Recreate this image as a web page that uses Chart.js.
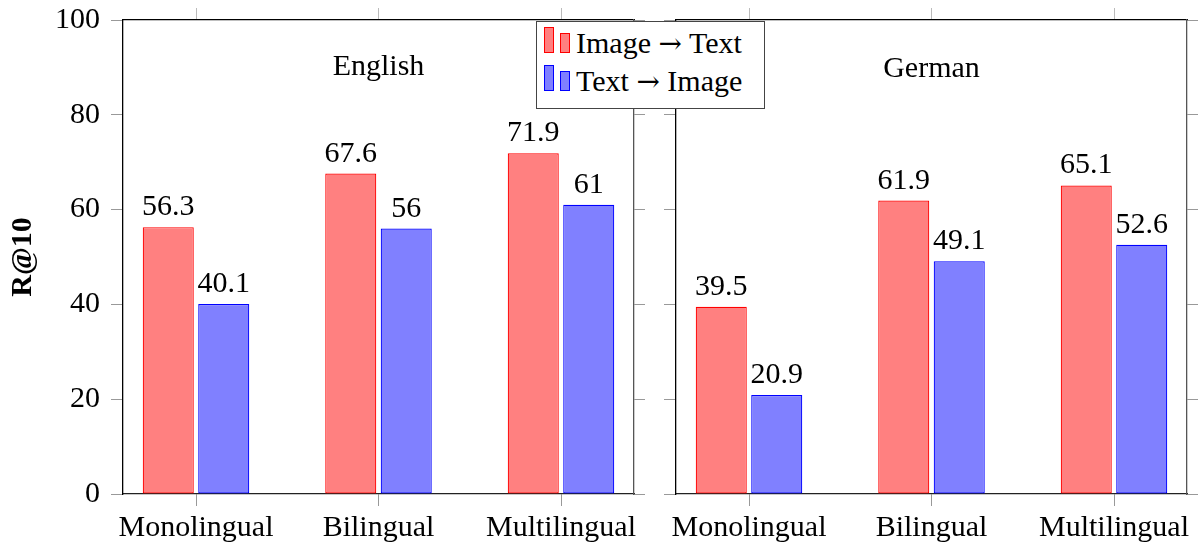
<!DOCTYPE html>
<html>
<head>
<meta charset="utf-8">
<script src="https://cdn.jsdelivr.net/npm/chart.js@4.4.0/dist/chart.umd.min.js"></script>
<style>
  body { margin: 0; width: 1198px; height: 546px; background: #fff; position: relative; overflow: hidden; font-family: 'Liberation Serif', serif; }
  #left { position: absolute; left: 0; top: 0; }
  #right { position: absolute; left: 655px; top: 0; }
  .legend { position: absolute; left: 536px; top: 21px; width: 227px; height: 86px; border: 1px solid #444; background: #fff; }
  .sw { position: absolute; width: 10px; box-sizing: border-box; }
  .lbl { position: absolute; left: 39px; font-size: 30px; line-height: 30px; white-space: pre; color: #000; }
  .arr { font-family: 'DejaVu Serif', serif; font-size: 28px; }
</style>
</head>
<body>
<canvas id="left" width="655" height="546"></canvas>
<canvas id="right" width="543" height="546"></canvas>
<div class="legend" id="legend"></div>
<script>
const categories = ['Monolingual', 'Bilingual', 'Multilingual'];
const seriesNames = ['Image \u2192 Text', 'Text \u2192 Image'];
const englishImgToText = [56.3, 67.6, 71.9];
const englishTextToImg = [40.1, 56, 61];
const germanImgToText = [39.5, 61.9, 65.1];
const germanTextToImg = [20.9, 49.1, 52.6];
const yTicks = [0, 20, 40, 60, 80, 100];

const fillColors = ['#ff8080', '#8080ff'];
const lineColors = ['#ff0000', '#0000ff'];
const font = { family: "'Liberation Serif', serif", size: 30 };

// text drawn over the bars + panel title
const valueLabels = {
  id: 'valueLabels',
  afterDatasetsDraw(chart, args, opts) {
    const ctx = chart.ctx;
    ctx.save();
    ctx.font = "30px 'Liberation Serif', serif";
    ctx.fillStyle = '#000';
    ctx.textAlign = 'center';
    ctx.textBaseline = 'alphabetic';
    chart.data.datasets.forEach((ds, i) => {
      chart.getDatasetMeta(i).data.forEach((bar, j) => {
        ctx.fillText(String(ds.data[j].y), bar.x, bar.y - 12);
      });
    });
    ctx.fillText(opts.title, chart.scales.x.getPixelForValue(1), chart.scales.y.getPixelForValue(opts.titleValue));
    ctx.restore();
  }
};

function catTicks(scale) {
  scale.ticks = categories.map((c, i) => ({ value: i }));
}

// keep the plot box where we want it, labels may overflow
function noPad(s) {
  s.paddingTop = 0; s.paddingBottom = 0; s.paddingLeft = 0; s.paddingRight = 0;
}

function makePanel(id, imgToText, textToImg, title, titleValue, isLeft) {
  const sets = [imgToText, textToImg].map((vals, k) => ({
    label: seriesNames[k],
    data: vals.map((v, i) => ({ x: i, y: v })),
    backgroundColor: fillColors[k],
    borderColor: lineColors[k],
    borderWidth: 1.2,
    borderSkipped: false,
    categoryPercentage: 0.608,
    barPercentage: 0.92,
    xAxisID: 'x',
    yAxisID: 'y',
  }));

  new Chart(document.getElementById(id), {
    type: 'bar',
    data: { datasets: sets },
    plugins: [valueLabels],
    options: {
      responsive: false,
      animation: false,
      layout: { padding: 0 },
      plugins: {
        legend: { display: false },
        tooltip: { enabled: false },
        valueLabels: { title: title, titleValue: titleValue },
      },
      scales: {
        x: {
          type: 'linear', position: 'bottom', min: -0.4, max: 2.4, offset: false,
          afterBuildTicks: catTicks,
          ticks: { callback: v => categories[v], color: '#000', font: font, padding: 4, maxRotation: 0, autoSkip: false },
          grid: { offset: false, drawOnChartArea: false, tickLength: 12, tickColor: '#999' },
          border: { color: '#222', width: 1.3 },
          afterFit: s => { s.height = 52; noPad(s); },
        },
        xTop: {
          type: 'linear', position: 'top', min: -0.4, max: 2.4, offset: false,
          afterBuildTicks: catTicks,
          ticks: { display: false },
          grid: { offset: false, drawOnChartArea: false, tickLength: 12, tickColor: '#bbb' },
          border: { color: '#000', width: 1.3 },
          afterFit: s => { s.height = 20; noPad(s); },
        },
        y: {
          position: 'left', min: 0, max: 100,
          afterBuildTicks: s => { s.ticks = yTicks.map(v => ({ value: v })); },
          ticks: { display: isLeft, color: '#000', font: font, padding: 11 },
          grid: { drawOnChartArea: false, tickLength: 12, tickColor: '#999' },
          border: { color: '#000', width: 1.3 },
          title: {
            display: isLeft, text: 'R@10', color: '#000',
            font: { family: font.family, size: 30, weight: 'bold' },
            padding: { top: 5, bottom: 0 },
          },
          afterFit: s => { s.width = isLeft ? 123 : 21; noPad(s); },
        },
        yRight: {
          position: 'right', min: 0, max: 100,
          afterBuildTicks: s => { s.ticks = yTicks.map(v => ({ value: v })); },
          ticks: { display: false },
          grid: { drawOnChartArea: false, tickLength: 11, tickColor: '#999' },
          border: { color: '#555', width: 1.3 },
          afterFit: s => { s.width = isLeft ? 21 : 11; noPad(s); },
        },
      },
    },
  });
}

makePanel('left', englishImgToText, englishTextToImg, 'English', 88.5, true);
makePanel('right', germanImgToText, germanTextToImg, 'German', 88, false);

// legend: two little bars per entry like pgfplots ybar legend
const legend = document.getElementById('legend');
seriesNames.forEach((name, k) => {
  const top = k === 0 ? 5 : 43;
  const parts = name.split('\u2192');
  legend.insertAdjacentHTML('beforeend',
    `<div class="sw" style="left:7px;top:${top}px;height:26px;background:${fillColors[k]};border:1px solid ${lineColors[k]}"></div>` +
    `<div class="sw" style="left:23px;top:${top + 6}px;height:20px;background:${fillColors[k]};border:1px solid ${lineColors[k]}"></div>` +
    `<div class="lbl" style="top:${top + 1}px">${parts[0]}<span class="arr">\u2192</span>${parts[1]}</div>`);
});
</script>
</body>
</html>
